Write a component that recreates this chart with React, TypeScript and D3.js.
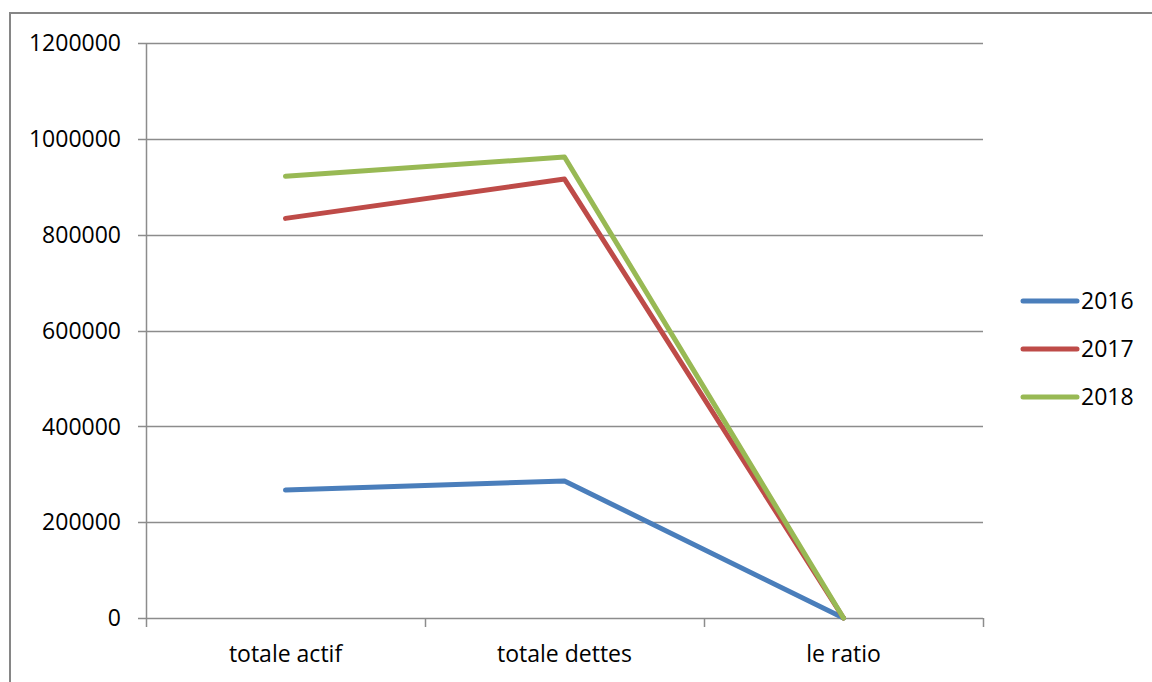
import React, { useEffect, useRef } from "react";
import * as d3 from "d3";

const categories = ["totale actif", "totale dettes", "le ratio"];
const seriesNames = ["2016", "2017", "2018"];
const values2016 = [267000, 286000, 1.2];
const values2017 = [834000, 916000, 1.1];
const values2018 = [922000, 962000, 1.0];
const seriesColors = ["#4a7ebb", "#be4b48", "#98b954"];
const yTicks = [0, 200000, 400000, 600000, 800000, 1000000, 1200000];

const W = 1152;
const H = 682;
const FONT = "'Open Sans', 'Noto Sans', sans-serif";
const FS = 23;

export default function App() {
  const ref = useRef<SVGSVGElement>(null);

  useEffect(() => {
    const svg = d3.select(ref.current);
    svg.selectAll("*").remove();

    const plot = { left: 146, right: 983, top: 43, bottom: 618 };
    const x = d3.scaleBand<string>().domain(categories).range([plot.left, plot.right]);
    const y = d3.scaleLinear().domain([0, 1200000]).range([plot.bottom, plot.top]);

    // outer chart frame
    svg
      .append("rect")
      .attr("x", 10)
      .attr("y", 13)
      .attr("width", W + 20)
      .attr("height", H + 20)
      .attr("fill", "#fff")
      .attr("stroke", "#868686")
      .attr("stroke-width", 2);

    // horizontal gridlines
    svg
      .append("g")
      .selectAll("line")
      .data(yTicks)
      .join("line")
      .attr("x1", plot.left - 8)
      .attr("x2", plot.right)
      .attr("y1", (d) => Math.round(y(d)) + 0.5)
      .attr("y2", (d) => Math.round(y(d)) + 0.5)
      .attr("stroke", "#8c8c8c")
      .attr("stroke-width", 1.5);

    // value axis
    svg
      .append("line")
      .attr("x1", plot.left + 0.5)
      .attr("x2", plot.left + 0.5)
      .attr("y1", plot.top)
      .attr("y2", plot.bottom + 9)
      .attr("stroke", "#8c8c8c")
      .attr("stroke-width", 1.5);

    // category tick marks at band boundaries
    const bounds = categories.map((c) => x(c)!).concat([plot.right]);
    svg
      .append("g")
      .selectAll("line")
      .data(bounds.slice(1))
      .join("line")
      .attr("x1", (d) => Math.round(d) + 0.5)
      .attr("x2", (d) => Math.round(d) + 0.5)
      .attr("y1", plot.bottom)
      .attr("y2", plot.bottom + 9)
      .attr("stroke", "#8c8c8c")
      .attr("stroke-width", 1.5);

    // y labels
    svg
      .append("g")
      .selectAll("text")
      .data(yTicks)
      .join("text")
      .attr("x", 121)
      .attr("y", (d) => y(d))
      .attr("dy", "0.36em")
      .attr("text-anchor", "end")
      .attr("font-family", FONT)
      .attr("font-size", FS)
      .attr("fill", "#000")
      .text((d) => String(d));

    // x labels
    svg
      .append("g")
      .selectAll("text")
      .data(categories)
      .join("text")
      .attr("x", (d) => x(d)! + x.bandwidth() / 2)
      .attr("y", 662)
      .attr("text-anchor", "middle")
      .attr("font-family", FONT)
      .attr("font-size", FS)
      .attr("fill", "#000")
      .text((d) => d);

    const allSeries = [values2016, values2017, values2018];
    const line = d3
      .line<number>()
      .x((_, i) => x(categories[i])! + x.bandwidth() / 2)
      .y((d) => y(d));

    allSeries.forEach((vals, i) => {
      svg
        .append("path")
        .datum(vals)
        .attr("d", line)
        .attr("fill", "none")
        .attr("stroke", seriesColors[i])
        .attr("stroke-width", 5)
        .attr("stroke-linejoin", "round")
        .attr("stroke-linecap", "round");
    });

    // legend
    const legend = svg.append("g");
    seriesNames.forEach((name, i) => {
      const cy = 301 + i * 48;
      legend
        .append("line")
        .attr("x1", 1023)
        .attr("x2", 1077)
        .attr("y1", cy)
        .attr("y2", cy)
        .attr("stroke", seriesColors[i])
        .attr("stroke-width", 5)
        .attr("stroke-linecap", "round");
      legend
        .append("text")
        .attr("x", 1081)
        .attr("y", cy)
        .attr("dy", "0.36em")
        .attr("font-family", FONT)
        .attr("font-size", FS)
        .attr("fill", "#000")
        .text(name);
    });
  }, []);

  return (
    <svg
      ref={ref}
      width={W}
      height={H}
      style={{ position: "absolute", left: 0, top: 0, display: "block", background: "#fff" }}
    />
  );
}
